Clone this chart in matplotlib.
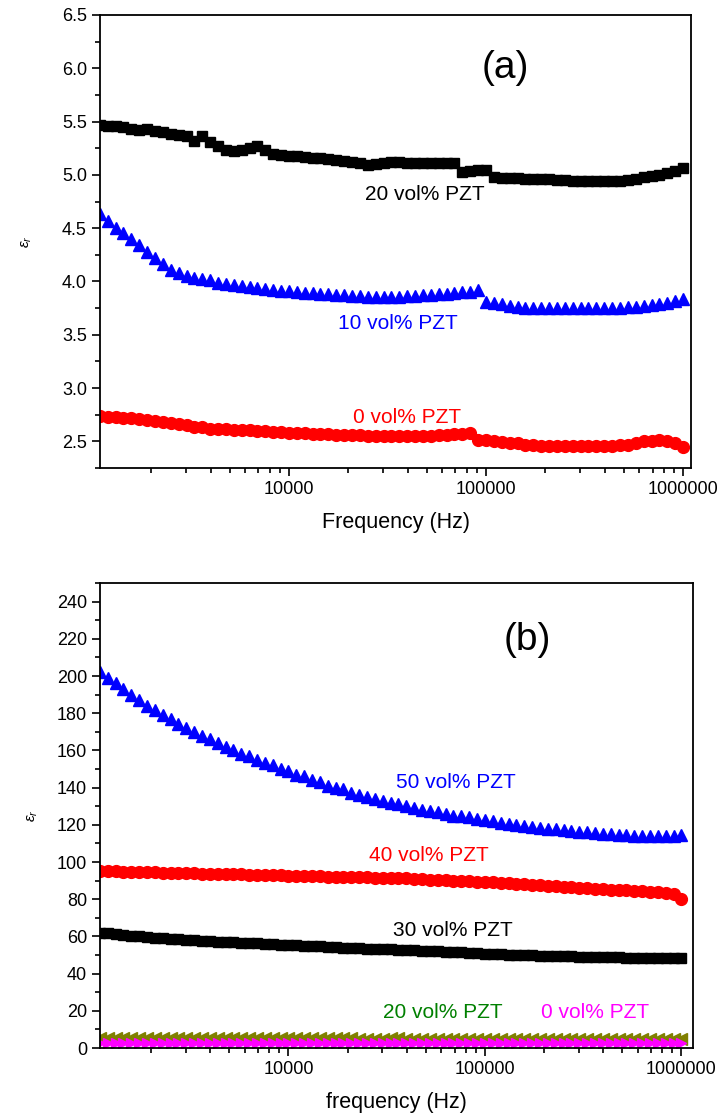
import numpy as np
import matplotlib
matplotlib.use('Agg')
import matplotlib.pyplot as plt
from matplotlib.ticker import MultipleLocator, LogLocator, FixedLocator, FixedFormatter, NullFormatter

plt.rcParams['font.family'] = ['Liberation Sans', 'DejaVu Sans']
plt.rcParams['mathtext.fontset'] = 'custom'
plt.rcParams['mathtext.rm'] = 'Liberation Sans'
plt.rcParams['mathtext.it'] = 'Liberation Sans:italic'

# frecuencias de medida (25 puntos por decada)
freq = np.array([10 ** (3 + k / 25) for k in range(1, 76)])

# panel (a)
pzt20 = [5.47, 5.46, 5.46, 5.45, 5.43, 5.42, 5.43, 5.41, 5.40, 5.38,
         5.37, 5.36, 5.32, 5.36, 5.31, 5.27, 5.23, 5.22, 5.23, 5.25,
         5.27, 5.23, 5.20, 5.19, 5.18, 5.18, 5.17, 5.16, 5.16, 5.15,
         5.14, 5.13, 5.12, 5.11, 5.09, 5.10, 5.11, 5.12, 5.12, 5.11,
         5.11, 5.11, 5.11, 5.11, 5.11, 5.11, 5.03, 5.04, 5.05, 5.05,
         4.98, 4.97, 4.97, 4.97, 4.96, 4.96, 4.96, 4.96, 4.95, 4.95,
         4.94, 4.94, 4.94, 4.94, 4.94, 4.94, 4.94, 4.95, 4.96, 4.98,
         4.99, 5.00, 5.02, 5.04, 5.06]
pzt10 = [4.63, 4.57, 4.50, 4.45, 4.40, 4.34, 4.28, 4.22, 4.16, 4.11,
         4.08, 4.05, 4.03, 4.02, 4.01, 3.99, 3.98, 3.97, 3.96, 3.95,
         3.94, 3.93, 3.92, 3.91, 3.91, 3.90, 3.89, 3.89, 3.88, 3.88,
         3.87, 3.87, 3.86, 3.86, 3.85, 3.85, 3.85, 3.85, 3.85, 3.86,
         3.86, 3.87, 3.87, 3.88, 3.88, 3.89, 3.90, 3.90, 3.92, 3.81,
         3.80, 3.79, 3.77, 3.76, 3.75, 3.75, 3.75, 3.75, 3.75, 3.75,
         3.75, 3.75, 3.75, 3.75, 3.75, 3.75, 3.75, 3.76, 3.76, 3.77,
         3.78, 3.79, 3.80, 3.82, 3.84]
pzt0 = [2.74, 2.73, 2.73, 2.72, 2.72, 2.71, 2.70, 2.69, 2.68, 2.67,
        2.66, 2.65, 2.63, 2.63, 2.62, 2.62, 2.62, 2.61, 2.61, 2.61,
        2.60, 2.60, 2.59, 2.59, 2.58, 2.58, 2.58, 2.57, 2.57, 2.57,
        2.56, 2.56, 2.56, 2.56, 2.55, 2.55, 2.55, 2.55, 2.55, 2.55,
        2.55, 2.55, 2.55, 2.56, 2.56, 2.57, 2.57, 2.58, 2.51, 2.51,
        2.50, 2.49, 2.48, 2.48, 2.47, 2.47, 2.46, 2.46, 2.46, 2.46,
        2.46, 2.46, 2.46, 2.46, 2.46, 2.46, 2.47, 2.47, 2.48, 2.50,
        2.50, 2.51, 2.50, 2.48, 2.45]

# panel (b)
pzt50 = [202, 199, 196, 193, 190, 187, 184, 182, 179, 177,
         174, 172, 170, 168, 166, 164, 162, 160, 158, 157,
         155, 153, 152, 150, 149, 147, 146, 144, 143, 141,
         140, 139, 137, 136, 135, 134, 133, 132, 131, 130,
         129, 128, 127.5, 127, 126, 125, 124.5, 124, 123, 122.5,
         122, 121, 120.5, 120, 119.5, 119, 118.5, 118, 117.5, 117,
         116.5, 116, 116, 115.5, 115, 115, 114.5, 114.5, 114, 114,
         114, 114, 114, 114, 114.5]
pzt40 = [95, 95, 95, 94.8, 94.7, 94.6, 94.5, 94.4, 94.3, 94.2,
         94.1, 94.0, 93.9, 93.8, 93.7, 93.6, 93.5, 93.4, 93.3, 93.2,
         93.1, 93.0, 92.9, 92.8, 92.7, 92.6, 92.5, 92.4, 92.3, 92.2,
         92.1, 92.0, 91.9, 91.8, 91.7, 91.6, 91.5, 91.4, 91.3, 91.2,
         91.0, 90.8, 90.6, 90.4, 90.2, 90.0, 89.8, 89.6, 89.4, 89.2,
         89.0, 88.8, 88.5, 88.2, 88.0, 87.8, 87.5, 87.2, 87.0, 86.8,
         86.5, 86.2, 86.0, 85.7, 85.4, 85.2, 85.0, 84.7, 84.5, 84.2,
         84.0, 83.8, 83.5, 83.0, 80.0]
pzt30 = [62.0, 61.6, 61.2, 60.8, 60.4, 60.0, 59.7, 59.4, 59.1, 58.8,
         58.5, 58.2, 57.9, 57.6, 57.4, 57.2, 57.0, 56.8, 56.6, 56.4,
         56.2, 56.0, 55.8, 55.6, 55.4, 55.2, 55.0, 54.8, 54.6, 54.4,
         54.2, 54.0, 53.8, 53.6, 53.4, 53.2, 53.1, 53.0, 52.9, 52.8,
         52.6, 52.4, 52.2, 52.0, 51.8, 51.6, 51.4, 51.2, 51.0, 50.8,
         50.6, 50.4, 50.2, 50.0, 49.9, 49.8, 49.7, 49.6, 49.5, 49.4,
         49.3, 49.2, 49.1, 49.0, 48.9, 48.8, 48.7, 48.6, 48.5, 48.4,
         48.3, 48.3, 48.2, 48.2, 48.2]

xticks = [10000, 100000, 1000000]
xticklabels = ['10000', '100000', '1000000']

fig = plt.figure(figsize=(7.2, 11.18), dpi=100)
ax1 = fig.add_axes([0.139, 0.5814, 0.821, 0.4052])
ax2 = fig.add_axes([0.139, 0.0626, 0.824, 0.4159])


def estilo(ax):
    ax.set_xscale('log')
    ax.xaxis.set_major_locator(FixedLocator(xticks))
    ax.xaxis.set_major_formatter(FixedFormatter(xticklabels))
    ax.xaxis.set_minor_locator(LogLocator(base=10, subs=np.arange(2, 10)))
    ax.xaxis.set_minor_formatter(NullFormatter())
    ax.tick_params(which='both', direction='out', top=False, right=False,
                   width=1.2, labelsize=13, colors='black')
    ax.tick_params(which='major', length=6)
    ax.tick_params(which='minor', length=3.5)
    for s in ax.spines.values():
        s.set_linewidth(1.3)


# Panel (a)
ax1.plot(freq, pzt20, 's', color='black', ms=7.5, mec='black')
ax1.plot(freq, pzt10, '^', color='blue', ms=9, mec='blue')
ax1.plot(freq, pzt0, 'o', color='red', ms=8.5, mec='red')
estilo(ax1)
ax1.set_xlim(1100, 1.1e6)
ax1.set_ylim(2.25, 6.5)
ax1.yaxis.set_major_locator(MultipleLocator(0.5))
ax1.yaxis.set_minor_locator(MultipleLocator(0.25))
ax1.yaxis.set_major_formatter(plt.FormatStrFormatter('%.1f'))
ax1.set_xlabel('Frequency (Hz)', fontsize=15.5, labelpad=10)
ax1.set_ylabel(r'$\varepsilon_r$', fontsize=11, labelpad=20)
ax1.text(0.685, 0.883, '(a)', transform=ax1.transAxes, fontsize=28, ha='center', va='center')
ax1.text(0.55, 0.603, '20 vol% PZT', transform=ax1.transAxes, fontsize=15, color='black', ha='center', va='center')
ax1.text(0.503, 0.320, '10 vol% PZT', transform=ax1.transAxes, fontsize=15, color='blue', ha='center', va='center')
ax1.text(0.52, 0.112, '0 vol% PZT', transform=ax1.transAxes, fontsize=15, color='red', ha='center', va='center')

# Panel (b)
ax2.plot(freq, pzt50, '^', color='blue', ms=9, mec='blue')
ax2.plot(freq, pzt40, 'o', color='red', ms=8.5, mec='red')
ax2.plot(freq, pzt30, 's', color='black', ms=7.5, mec='black')
ax2.plot(freq, pzt20, '<', color='#808000', ms=9, mec='#808000')
ax2.plot(freq, pzt0, '>', color='magenta', ms=7, mec='magenta')
estilo(ax2)
ax2.set_xlim(1100, 1.15e6)
ax2.set_ylim(0, 250)
ax2.yaxis.set_major_locator(MultipleLocator(20))
ax2.yaxis.set_minor_locator(MultipleLocator(10))
ax2.set_xlabel('frequency (Hz)', fontsize=15.5, labelpad=10)
ax2.set_ylabel(r'$\varepsilon_r$', fontsize=11, labelpad=12)
ax2.text(0.72, 0.877, '(b)', transform=ax2.transAxes, fontsize=28, ha='center', va='center')
ax2.text(0.599, 0.570, '50 vol% PZT', transform=ax2.transAxes, fontsize=15, color='blue', ha='center', va='center')
ax2.text(0.555, 0.413, '40 vol% PZT', transform=ax2.transAxes, fontsize=15, color='red', ha='center', va='center')
ax2.text(0.595, 0.252, '30 vol% PZT', transform=ax2.transAxes, fontsize=15, color='black', ha='center', va='center')
ax2.text(0.577, 0.077, '20 vol% PZT', transform=ax2.transAxes, fontsize=15, color='#008000', ha='center', va='center')
ax2.text(0.835, 0.077, '0 vol% PZT', transform=ax2.transAxes, fontsize=15, color='magenta', ha='center', va='center')

fig.savefig('out.png', dpi=100)
